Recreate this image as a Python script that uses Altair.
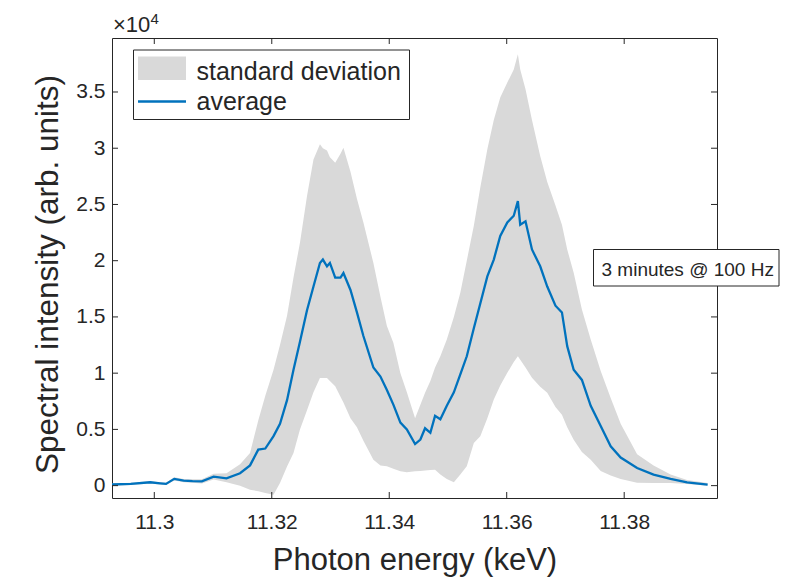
import altair as alt
import pandas as pd

# ---- data ----
energy = [11.2928, 11.2960, 11.2993, 11.3010, 11.3020, 11.3034, 11.3050, 11.3065, 11.3081,
          11.3101, 11.3123, 11.3146, 11.3163, 11.3177, 11.3189, 11.3203, 11.3214, 11.3226,
          11.3237, 11.3248, 11.3260, 11.3271, 11.3282, 11.3287, 11.3294, 11.3299, 11.3308,
          11.3317, 11.3322, 11.3334, 11.3345, 11.3356, 11.3373, 11.3385, 11.3396, 11.3407,
          11.3419, 11.3430, 11.3444, 11.3453, 11.3461, 11.3470, 11.3478, 11.3487, 11.3498,
          11.3510, 11.3521, 11.3532, 11.3544, 11.3555, 11.3567, 11.3578, 11.3589, 11.3601,
          11.3612, 11.3619, 11.3623, 11.3632, 11.3643, 11.3657, 11.3669, 11.3683, 11.3694,
          11.3703, 11.3714, 11.3728, 11.3743, 11.3760, 11.3777, 11.3794, 11.3822, 11.3850,
          11.3879, 11.3907, 11.3942]
average = [100, 150, 300, 200, 150, 600, 450, 400, 380,
           800, 650, 1100, 1800, 3200, 3300, 4400, 5500, 7600,
           10300, 12800, 15600, 17700, 19800, 20100, 19500, 19800, 18500,
           18500, 18900, 17400, 15400, 13300, 10500, 9700, 8500, 7200,
           5600, 5000, 3700, 4100, 5100, 4700, 6200, 5900, 7100,
           8300, 9900, 11500, 14000, 16200, 18600, 20100, 22200, 23400,
           24000, 25300, 23200, 23500, 21000, 19500, 17700, 16000, 15400,
           12400, 10300, 9400, 7100, 5300, 3500, 2500, 1570, 980,
           600, 290, 90]
std_lower = [0, 50, 200, 100, 50, 450, 300, 250, 200,
             550, 300, 0, -360, -500, -650, -800, 240, 1700,
             2900, 4980, 6700, 8300, 9580, 9580, 9580, 9300, 8840,
             7900, 7400, 6000, 5200, 4000, 2310, 1800, 1720, 1500,
             1270, 1200, 1270, 1300, 1350, 1400, 1420, 1000, 600,
             300, 1000, 1720, 3800, 4390, 6000, 7650, 8900, 10030,
             11000, 11510, 11200, 10500, 9600, 8800, 8250, 7000, 6300,
             5200, 4090, 3000, 2300, 1300, 900, 600, 250, 240,
             240, 150, 0]
std_upper = [200, 250, 400, 300, 260, 750, 600, 560, 560,
             1050, 1100, 1900, 2900, 5800, 8000, 10300, 12500, 15100,
             18500, 21600, 25750, 29000, 30350, 30000, 29800, 29200, 28700,
             29500, 30050, 27900, 25500, 23400, 19800, 16800, 14200, 12700,
             10000, 8300, 6000, 7200, 8250, 9300, 10500, 11500, 13000,
             15000, 17150, 20000, 23100, 26500, 29900, 32500, 34500, 35840,
             37000, 38350, 37000, 35240, 32500, 29300, 27000, 24900, 23200,
             21000, 18930, 15660, 13000, 10200, 7800, 5500, 2800, 1800,
             1000, 500, 240]

x_ticks = [11.30, 11.32, 11.34, 11.36, 11.38]
y_ticks = [0, 5000, 10000, 15000, 20000, 25000, 30000, 35000]

legend_labels = ["standard deviation", "average"]
note_text = "3 minutes @ 100 Hz"
exponent_base = "\u00d710"
exponent_power = "4"
x_title = "Photon energy (keV)"
y_title = "Spectral intensity (arb. units)"

# ---- styling ----
W, H = 605, 460
XDOM = [11.2928, 11.3958]
YDOM = [-1100, 39800]
INK = "#262626"
GRAY = "#d9d9d9"
BLUE = "#0072BD"
FONT = "Liberation Sans"

df = pd.DataFrame({"energy": energy, "avg": average, "lo": std_lower, "hi": std_upper})
xt = pd.DataFrame({"energy": x_ticks})
yt = pd.DataFrame({"lo": y_ticks})

xscale = alt.Scale(domain=XDOM, nice=False, zero=False)
yscale = alt.Scale(domain=YDOM, nice=False, zero=False)

x_axis = alt.Axis(values=x_ticks, format="~g", ticks=False, domain=False, grid=False,
                  labelFont=FONT, labelFontSize=21, labelColor=INK, labelPadding=13,
                  labelOverlap=False,
                  title=x_title, titleFont=FONT, titleFontSize=31, titleFontWeight="normal",
                  titleColor=INK, titleY=71, titleBaseline="alphabetic")
y_axis = alt.Axis(values=y_ticks, labelExpr="format(datum.value / 10000, '~g')",
                  ticks=False, domain=False, grid=False,
                  labelFont=FONT, labelFontSize=21, labelColor=INK, labelPadding=7,
                  labelOverlap=False,
                  title=y_title, titleFont=FONT, titleFontSize=31.5, titleFontWeight="normal",
                  titleColor=INK, titleX=-55, titleY=236, titleBaseline="alphabetic",
                  titleAngle=270)

X = alt.X("energy:Q", scale=xscale, axis=x_axis, title=x_title)
Y_lo = alt.Y("lo:Q", scale=yscale, axis=y_axis, title=y_title)

band = alt.Chart(df).mark_area(color=GRAY, opacity=1).encode(
    x=X, y=Y_lo, y2="hi:Q",
)
line = alt.Chart(df).mark_line(color=BLUE, strokeWidth=2.3).encode(
    x=X,
    y=alt.Y("avg:Q", scale=yscale, axis=y_axis, title=y_title),
)

TL = 6
tick_style = dict(color=INK, strokeWidth=1)
xt_bottom = alt.Chart(xt).mark_rule(**tick_style).encode(
    x=X, y=alt.value(H), y2=alt.value(H - TL))
xt_top = alt.Chart(xt).mark_rule(**tick_style).encode(
    x=X, y=alt.value(0), y2=alt.value(TL))
yt_left = alt.Chart(yt).mark_rule(**tick_style).encode(
    y=Y_lo, x=alt.value(0), x2=alt.value(TL))
yt_right = alt.Chart(yt).mark_rule(**tick_style).encode(
    y=Y_lo, x=alt.value(W), x2=alt.value(W - TL))

one = pd.DataFrame({"k": [0]})

# legend
leg_box = alt.Chart(one).mark_rect(fill="white", stroke=INK, strokeWidth=1).encode(
    x=alt.value(21.5), x2=alt.value(297.5), y=alt.value(12), y2=alt.value(81.5))
leg_patch = alt.Chart(one).mark_rect(fill=GRAY).encode(
    x=alt.value(26), x2=alt.value(74), y=alt.value(18.5), y2=alt.value(42))
leg_line = alt.Chart(one).mark_rule(color=BLUE, strokeWidth=2.3).encode(
    x=alt.value(26), x2=alt.value(74), y=alt.value(63.5))
leg_t1 = alt.Chart(pd.DataFrame({"s": [legend_labels[0]]})).mark_text(
    font=FONT, fontSize=25, color=INK, align="left", baseline="alphabetic").encode(
    x=alt.value(84.5), y=alt.value(41.5), text="s:N")
leg_t2 = alt.Chart(pd.DataFrame({"s": [legend_labels[1]]})).mark_text(
    font=FONT, fontSize=25, color=INK, align="left", baseline="alphabetic").encode(
    x=alt.value(84.5), y=alt.value(72), text="s:N")

# annotation box
note_box = alt.Chart(one).mark_rect(fill="white", stroke=INK, strokeWidth=1).encode(
    x=alt.value(481.5), x2=alt.value(667), y=alt.value(211.5), y2=alt.value(248))
note_t = alt.Chart(pd.DataFrame({"s": [note_text]})).mark_text(
    font=FONT, fontSize=19, color=INK, align="left", baseline="alphabetic").encode(
    x=alt.value(489.5), y=alt.value(238), text="s:N")

# exponent label
exp_base = alt.Chart(pd.DataFrame({"s": [exponent_base]})).mark_text(
    font=FONT, fontSize=22, color=INK, align="left", baseline="alphabetic").encode(
    x=alt.value(1), y=alt.value(-6), text="s:N")
exp_pow = alt.Chart(pd.DataFrame({"s": [exponent_power]})).mark_text(
    font=FONT, fontSize=15, color=INK, align="left", baseline="alphabetic").encode(
    x=alt.value(38.5), y=alt.value(-14.5), text="s:N")

chart = alt.layer(
    band, line, xt_bottom, xt_top, yt_left, yt_right,
    leg_box, leg_patch, leg_line, leg_t1, leg_t2,
    note_box, note_t, exp_base, exp_pow,
).properties(
    width=W, height=H,
    autosize=alt.AutoSizeParams(type="none"),
    padding={"left": 104, "top": 30, "right": 64, "bottom": 80},
    background="white",
).configure_view(
    stroke=INK, strokeWidth=1,
)

chart.save("out.html", embed_options={"renderer": "svg", "actions": False})
